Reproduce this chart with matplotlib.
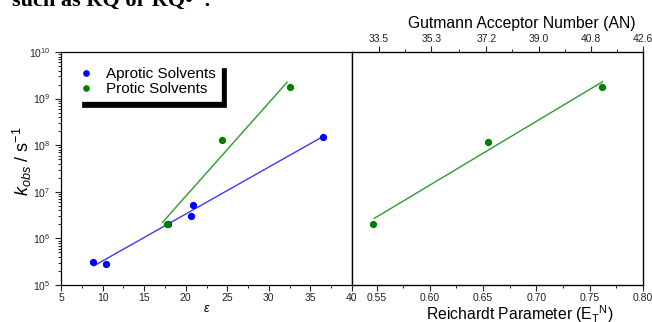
import numpy as np
import matplotlib
matplotlib.use('Agg')
import matplotlib.pyplot as plt
from matplotlib.ticker import FixedLocator, LogLocator, NullFormatter

plt.rcParams['font.family'] = ['Liberation Sans', 'DejaVu Sans']
plt.rcParams['mathtext.fontset'] = 'custom'
plt.rcParams['mathtext.rm'] = 'Liberation Sans'
plt.rcParams['mathtext.it'] = 'Liberation Sans:italic'

# left panel: k_obs vs dielectric constant
aprotic_eps = [8.9, 10.4, 17.9, 20.6, 20.9, 36.5]
aprotic_k = [3.05e5, 2.8e5, 2.0e6, 3.1e6, 5.1e6, 1.5e8]
aprotic_fit_eps = [9.0, 36.6]
aprotic_fit_k = [2.6e5, 1.57e8]

protic_eps = [17.8, 24.4, 32.6]
protic_k = [2.0e6, 1.27e8, 1.8e9]
protic_fit_eps = [17.2, 32.2]
protic_fit_k = [2.2e6, 2.25e9]

# right panel: k_obs vs Reichardt parameter
etn = [0.547, 0.655, 0.762]
etn_k = [2.0e6, 1.2e8, 1.75e9]
etn_fit = [0.548, 0.762]
etn_fit_k = [2.7e6, 2.3e9]

an_ticks = [33.5, 35.3, 37.2, 39.0, 40.8, 42.6]
an_labels = ['33.5', '35.3', '37.2', '39.0', '40.8', '42.6']

blue = '#0000ff'
green = '#008000'

fig = plt.figure(figsize=(6.52, 3.22), dpi=100)
fig.text(0.018, 1 - 6/322, 'such as RQ or RQ\u2022\u207b.', fontsize=16, fontweight='bold',
         family=['Liberation Serif', 'DejaVu Serif'], va='baseline')

ax1 = fig.add_axes([61/652, 1 - 285/322, 291/652, 233/322])
ax2 = fig.add_axes([352/652, 1 - 285/322, 291/652, 233/322])

ax1.plot(aprotic_fit_eps, aprotic_fit_k, color='#3a3aff', lw=1.0)
ax1.plot(protic_fit_eps, protic_fit_k, color='#2e9a2e', lw=1.0)
ax1.plot(aprotic_eps, aprotic_k, 'o', color=blue, ms=4.2, mec=blue, label='Aprotic Solvents')
ax1.plot(protic_eps, protic_k, 'o', color=green, ms=4.2, mec=green, label='Protic Solvents')

ax1.set_yscale('log')
ax1.set_xlim(5, 40)
ax1.set_ylim(1e5, 1e10)
ax1.set_xticks([5, 10, 15, 20, 25, 30, 35, 40])
ax1.xaxis.set_minor_locator(FixedLocator(np.arange(7.5, 40, 5)))
ax1.yaxis.set_major_locator(LogLocator(base=10, numticks=10))
ax1.yaxis.set_minor_locator(LogLocator(base=10, subs=np.arange(2, 10), numticks=20))
ax1.yaxis.set_minor_formatter(NullFormatter())
ax1.tick_params(axis='both', which='major', labelsize=7.5, length=4, width=0.8, direction='out', colors='#222222')
ax1.tick_params(axis='both', which='minor', length=2, width=0.6, direction='out')
ax1.tick_params(axis='x', pad=2)
ax1.set_xlabel('$\\varepsilon$', fontsize=9, labelpad=0)
ax1.set_ylabel('$k_{obs}$ / s$^{-1}$', fontsize=13)
ax1.yaxis.set_label_coords(-27/291, 0.53)
for s in ax1.spines.values():
    s.set_linewidth(0.9)

leg = ax1.legend(loc='upper left', bbox_to_anchor=(15/291, 1 - 10/233), fontsize=11,
                 frameon=True, fancybox=False, handlelength=0.6, handletextpad=1.0,
                 borderpad=0.35, borderaxespad=0, labelspacing=0.05, markerscale=0.9,
                 shadow={'color': 'black', 'alpha': 1.0, 'ox': 4, 'oy': -4})
leg.get_frame().set_edgecolor('white')
leg.get_frame().set_linewidth(0.5)

ax2.plot(etn_fit, etn_fit_k, color='#2e9a2e', lw=1.0)
ax2.plot(etn, etn_k, 'o', color=green, ms=4.2, mec=green)
ax2.set_yscale('log')
ax2.set_ylim(1e5, 1e10)
ax2.set_xlim(0.527, 0.80)
ax2.set_xticks([0.55, 0.60, 0.65, 0.70, 0.75, 0.80])
ax2.set_xticklabels(['0.55', '0.60', '0.65', '0.70', '0.75', '0.80'])
ax2.xaxis.set_minor_locator(FixedLocator([0.575, 0.625, 0.675, 0.725, 0.775]))
ax2.tick_params(axis='y', which='both', left=False, labelleft=False)
ax2.tick_params(axis='x', which='major', labelsize=7.5, length=4, width=0.8, pad=2, colors='#222222')
ax2.tick_params(axis='x', which='minor', length=2, width=0.6)
ax2.set_xlabel('Reichardt Parameter (E$_\\mathrm{T}$$^\\mathrm{N}$)', fontsize=11.3)
ax2.xaxis.set_label_coords(0.576, -0.08)
for s in ax2.spines.values():
    s.set_linewidth(0.9)

# top axis: Gutmann acceptor number
an_lo = 33.5 - (an_ticks[-1] - 33.5) * (27/264)
top = ax2.twiny()
top.set_xlim(an_lo, 42.6)
top.set_xticks(an_ticks)
top.set_xticklabels(an_labels)
top.xaxis.set_minor_locator(FixedLocator([34.4, 36.25, 38.1, 39.9, 41.7]))
top.tick_params(axis='x', which='major', labelsize=7.5, length=4, width=0.8, pad=2, colors='#222222')
top.tick_params(axis='x', which='minor', length=2, width=0.6)
top.set_xlabel('Gutmann Acceptor Number (AN)', fontsize=11.3)
top.xaxis.set_label_coords(0.584, 1.105)

fig.savefig('out.png', dpi=100)
